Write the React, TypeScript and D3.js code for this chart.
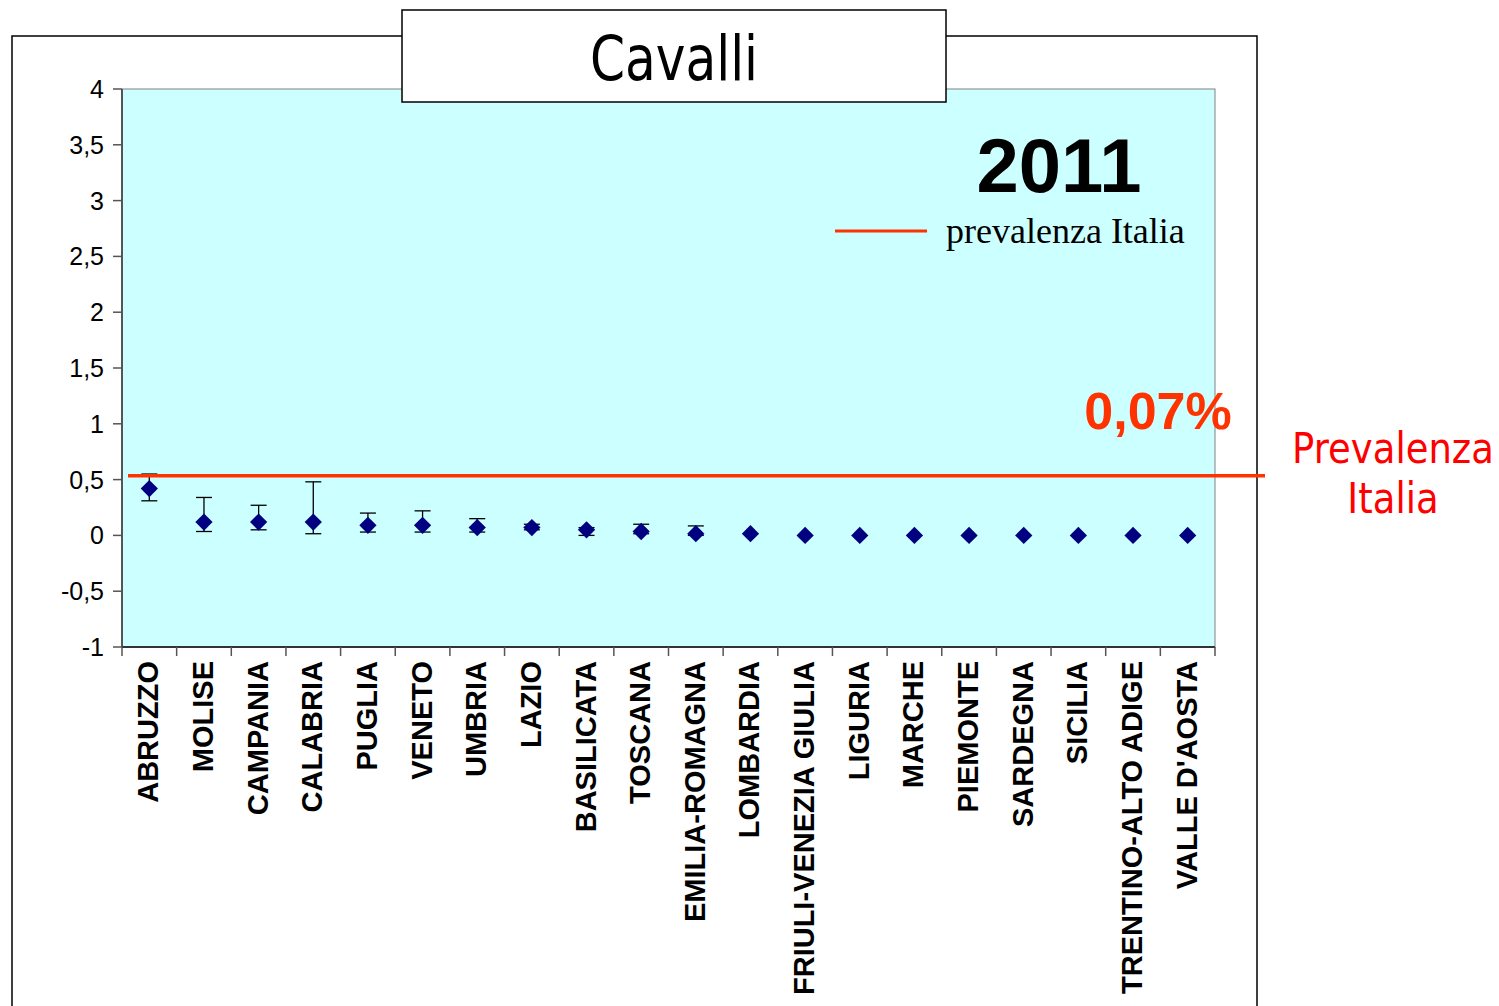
import React from "react";
import * as d3 from "d3";

const regions = ["ABRUZZO","MOLISE","CAMPANIA","CALABRIA","PUGLIA","VENETO","UMBRIA","LAZIO","BASILICATA","TOSCANA","EMILIA-ROMAGNA","LOMBARDIA","FRIULI-VENEZIA GIULIA","LIGURIA","MARCHE","PIEMONTE","SARDEGNA","SICILIA","TRENTINO-ALTO ADIGE","VALLE D'AOSTA"];
const values = [0.42,0.12,0.12,0.12,0.09,0.09,0.07,0.07,0.05,0.035,0.015,0.015,0,0,0,0,0,0,0,0];
const lower = [0.31,0.035,0.05,0.015,0.03,0.03,0.03,0.05,0.0,0.015,0.0,0.01,0,0,0,0,0,0,0,0];
const upper = [0.55,0.34,0.27,0.48,0.2,0.22,0.15,0.1,0.07,0.1,0.085,0.025,0,0,0,0,0,0,0,0];
const yTicks = [4,3.5,3,2.5,2,1.5,1,0.5,0,-0.5,-1];
const italyValue = 0.535;

export default function App() {
  const W = 1499, H = 1006;
  const left = 122, right = 1215, top = 89, bottom = 647;
  const x = d3.scaleBand<string>().domain(regions).range([left, right]).padding(0);
  const y = d3.scaleLinear().domain([-1, 4]).range([bottom, top]);
  const fmt = (v: number) => String(v).replace(".", ",");
  const orange = "#FF3300";
  const diamond = d3.symbol().type(d3.symbolDiamond2).size(190)();
  return (
    <svg width={W} height={H} style={{ position: "absolute", left: 0, top: 0, background: "#fff" }}>
      {/* outer frame */}
      <path d={`M12,${H + 2} V36 H1257 V${H + 2}`} fill="none" stroke="#000" strokeWidth={1.5} />
      {/* plot area */}
      <rect x={left} y={top} width={right - left} height={bottom - top} fill="#CCFFFF" stroke="#808080" strokeWidth={1} />
      {/* y axis */}
      <line x1={left} x2={left} y1={top} y2={bottom} stroke="#555" strokeWidth={2} />
      {yTicks.map((t) => (
        <g key={t}>
          <line x1={left - 9} x2={left} y1={y(t)} y2={y(t)} stroke="#555" strokeWidth={1.5} />
          <text x={104} y={y(t)} dy="0.36em" textAnchor="end" fontFamily="Liberation Sans, Arial, sans-serif" fontSize={25} fill="#000">{fmt(t)}</text>
        </g>
      ))}
      {/* x axis */}
      <line x1={left} x2={right} y1={bottom} y2={bottom} stroke="#333" strokeWidth={2} />
      {regions.map((r) => (
        <line key={"t" + r} x1={x(r)!} x2={x(r)!} y1={bottom} y2={bottom + 9} stroke="#555" strokeWidth={1.5} />
      ))}
      <line x1={right} x2={right} y1={bottom} y2={bottom + 9} stroke="#555" strokeWidth={1.5} />
      {regions.map((r) => {
        const cx = x(r)! + x.bandwidth() / 2;
        return (
          <text key={"l" + r} transform={`translate(${cx + 9},${bottom + 14}) rotate(-90)`} textAnchor="end" fontFamily="Liberation Sans, Arial, sans-serif" fontWeight="bold" fontSize={29} fill="#000">{r}</text>
        );
      })}
      {/* error bars */}
      {regions.map((r, i) => {
        const cx = x(r)! + x.bandwidth() / 2;
        if (upper[i] - lower[i] < 0.02) return null;
        return (
          <g key={"e" + r} stroke="#000" strokeWidth={1.3}>
            <line x1={cx} x2={cx} y1={y(upper[i])} y2={y(lower[i])} />
            <line x1={cx - 8} x2={cx + 8} y1={y(upper[i])} y2={y(upper[i])} />
            <line x1={cx - 8} x2={cx + 8} y1={y(lower[i])} y2={y(lower[i])} />
          </g>
        );
      })}
      {/* points */}
      {regions.map((r, i) => {
        const cx = x(r)! + x.bandwidth() / 2;
        return <path key={"p" + r} d={diamond!} transform={`translate(${cx},${y(values[i])})`} fill="#000080" />;
      })}
      {/* Italy line */}
      <line x1={128} x2={1265} y1={y(italyValue)} y2={y(italyValue)} stroke={orange} strokeWidth={3.5} />
      {/* title box */}
      <rect x={402} y={10} width={544} height={92} fill="#fff" stroke="#000" strokeWidth={1.5} />
      <text transform="translate(674,80) scale(0.9,1)" textAnchor="middle" fontFamily="DejaVu Sans Condensed, DejaVu Sans, sans-serif" fontSize={62} fill="#000">Cavalli</text>
      {/* year + legend */}
      <text x={1059} y={192} textAnchor="middle" fontFamily="Liberation Sans, Arial, sans-serif" fontWeight="bold" fontSize={76} fill="#000">2011</text>
      <line x1={835} x2={927} y1={231} y2={231} stroke={orange} strokeWidth={3} />
      <text x={946} y={243} fontFamily="Liberation Serif, Times New Roman, serif" fontSize={36} fill="#000">prevalenza Italia</text>
      {/* annotations */}
      <text x={1158} y={429} textAnchor="middle" fontFamily="Liberation Sans, Arial, sans-serif" fontWeight="bold" fontSize={52} fill={orange}>0,07%</text>
      <text transform="translate(1393,463) scale(0.86,1)" textAnchor="middle" fontFamily="DejaVu Sans, Verdana, sans-serif" fontSize={43} fill="#FF0000">Prevalenza</text>
      <text transform="translate(1393,513) scale(0.86,1)" textAnchor="middle" fontFamily="DejaVu Sans, Verdana, sans-serif" fontSize={43} fill="#FF0000">Italia</text>
    </svg>
  );
}
